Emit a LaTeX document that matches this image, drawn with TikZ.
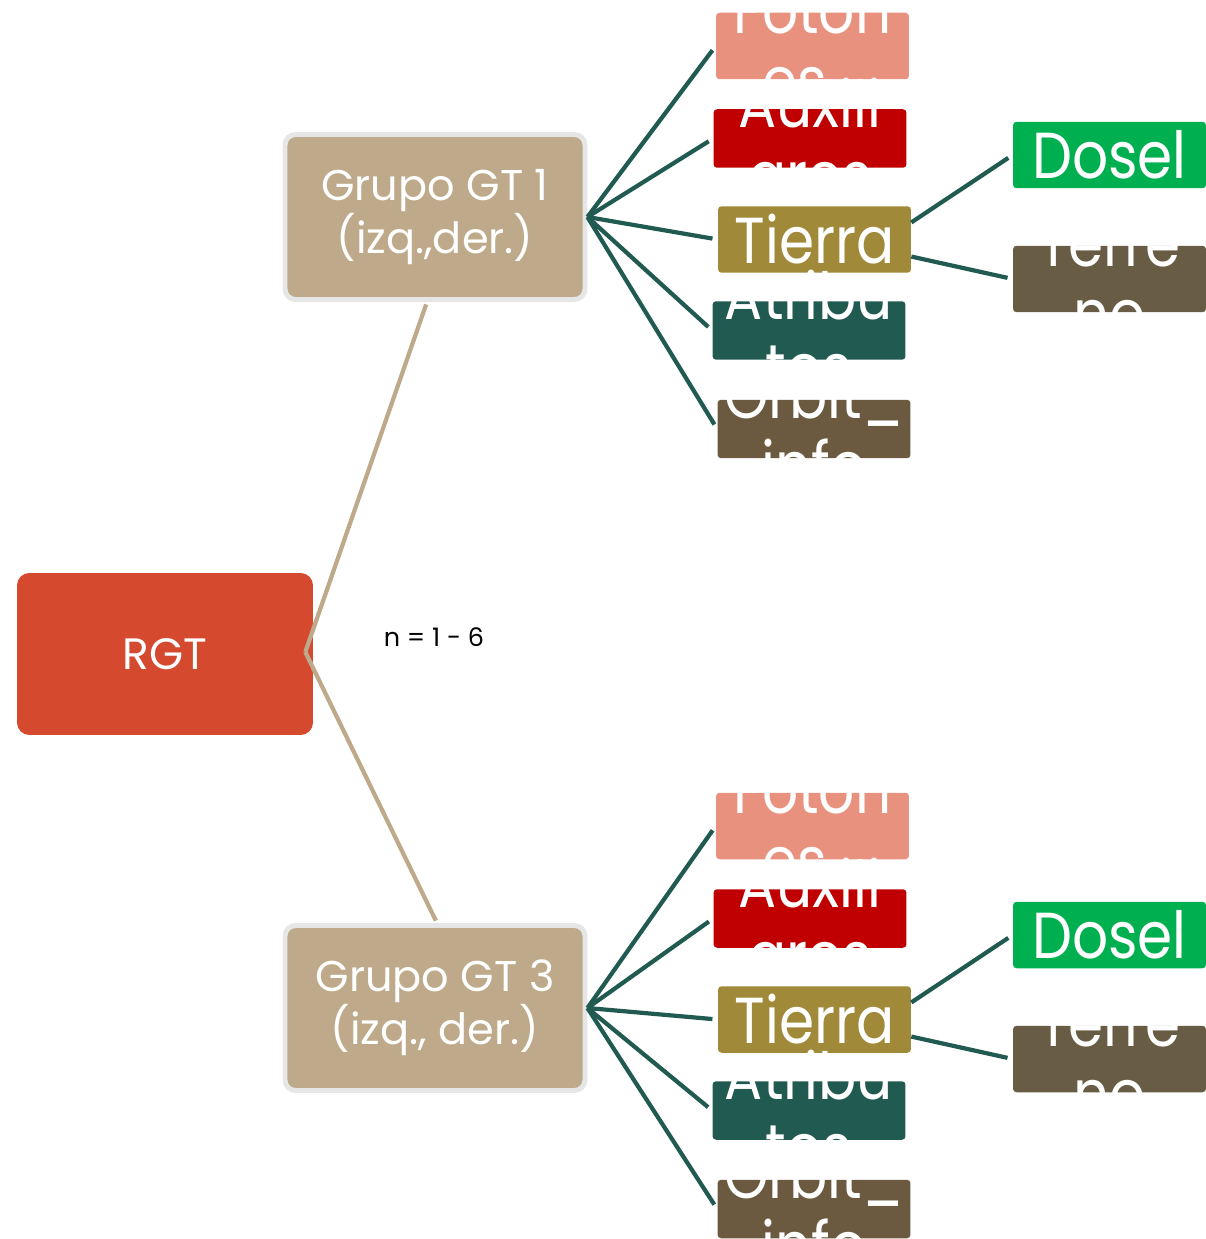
\documentclass[tikz,border=0pt]{standalone}
\usepackage{fontspec}
\setmainfont{Poppins}
\newfontfamily\leaffont[FakeStretch=0.87]{Poppins}
\usetikzlibrary{positioning,calc}
\definecolor{rgtred}{RGB}{213,73,47}
\definecolor{gttan}{RGB}{190,170,138}
\definecolor{gtrim}{RGB}{230,230,230}
\definecolor{linkgreen}{RGB}{33,90,80}
\definecolor{fotsalmon}{RGB}{232,145,127}
\definecolor{auxred}{RGB}{192,0,0}
\definecolor{tierraolive}{RGB}{160,137,56}
\definecolor{atribteal}{RGB}{33,90,80}
\definecolor{orbitbrown}{RGB}{107,90,64}
\definecolor{doselgreen}{RGB}{0,176,80}
\definecolor{terrenobrown}{RGB}{104,92,69}

\begin{document}
\begin{tikzpicture}[
  x=0.02cm, y=-0.02cm,
  rootbox/.style={rounded corners=7pt,fill=rgtred,minimum width=5.92cm,minimum height=3.24cm,
                  text=white,font=\fontsize{25}{28}\selectfont},
  groupbox/.style={rounded corners=6pt,fill=gttan,draw=gtrim,line width=2.8pt,
                   minimum width=6cm,minimum height=3.3cm,align=center,text=white,
                   font=\fontsize{24.5}{26.5}\selectfont},
  leafbox/.style={rounded corners=2pt,minimum width=3.86cm,minimum height=1.33cm,inner sep=0pt},
  shortleaf/.style={leafbox,minimum height=1.17cm},
  leaftext/.style={text=white,align=center,inner sep=0pt,font=\leaffont\fontsize{37}{40}\selectfont},
  trunk/.style={gttan,line width=2.4pt,shorten >=1.5pt},
  twig/.style={linkgreen,line width=2.4pt,shorten >=3pt},
]
  \useasboundingbox (0,0) rectangle (1205,1239);

  % root and groups
  \node[rootbox] (rgt) at (165,654) {RGT};
  \node[groupbox] (gt1) at (435,217) {Grupo GT 1\\(izq.,der.)};
  \node[groupbox] (gt3) at (435,1008) {Grupo GT 3\\(izq., der.)};
  \node[font=\fontsize{14.5}{17}\selectfont] (nrange) at (434,637) {n = 1 - 6};

  % root -> groups
  \coordinate (rgthub) at ($(rgt.east)+(-8,-2)$);
  \draw[trunk] (rgthub) -- ($(gt1.south)+(-8,0)$);
  \draw[trunk] (rgthub) -- ($(gt3.north)+(2,0)$);

  % leaves of GT 1
  \node[leafbox,fill=fotsalmon,label={[leaftext]center:{Foton\\es...}}] (fot1) at (812.5,46) {};
  \node[shortleaf,fill=auxred,label={[leaftext]center:{Auxili\\ares}}] (aux1) at (810,138.5) {};
  \node[leafbox,fill=tierraolive,label={[leaftext]center:{Tierra}}] (tierra1) at (814.5,239.5) {};
  \node[shortleaf,fill=atribteal,label={[leaftext]center:{Atribu\\tos}}] (atrib1) at (809,330.5) {};
  \node[shortleaf,fill=orbitbrown,label={[leaftext]center:{Orbit\_\\info}}] (orbit1) at (814,429) {};
  \node[leafbox,fill=doselgreen,label={[leaftext]center:{Dosel}}] (dosel1) at (1109.5,155) {};
  \node[leafbox,fill=terrenobrown,label={[leaftext]center:{Terre\\no}}] (terreno1) at (1109.5,279) {};

  % leaves of GT 3
  \node[leafbox,fill=fotsalmon,label={[leaftext]center:{Foton\\es...}}] (fot3) at (812.5,826) {};
  \node[shortleaf,fill=auxred,label={[leaftext]center:{Auxili\\ares}}] (aux3) at (810,918.5) {};
  \node[leafbox,fill=tierraolive,label={[leaftext]center:{Tierra}}] (tierra3) at (814.5,1019.5) {};
  \node[shortleaf,fill=atribteal,label={[leaftext]center:{Atribu\\tos}}] (atrib3) at (809,1110.5) {};
  \node[shortleaf,fill=orbitbrown,label={[leaftext]center:{Orbit\_\\info}}] (orbit3) at (814,1209) {};
  \node[leafbox,fill=doselgreen,label={[leaftext]center:{Dosel}}] (dosel3) at (1109.5,935) {};
  \node[leafbox,fill=terrenobrown,label={[leaftext]center:{Terre\\no}}] (terreno3) at (1109.5,1059) {};

  % group -> leaves
  \draw[twig] (gt1.east) -- (fot1.west);
  \draw[twig] (gt1.east) -- (aux1.west);
  \draw[twig] (gt1.east) -- (tierra1.west);
  \draw[twig] (gt1.east) -- (atrib1.west);
  \draw[twig] (gt1.east) -- (orbit1.west);
  \draw[twig] (tierra1.10) -- (dosel1.west);
  \draw[twig] (tierra1.-10) -- (terreno1.west);

  \draw[twig] (gt3.east) -- (fot3.west);
  \draw[twig] (gt3.east) -- (aux3.west);
  \draw[twig] (gt3.east) -- (tierra3.west);
  \draw[twig] (gt3.east) -- (atrib3.west);
  \draw[twig] (gt3.east) -- (orbit3.west);
  \draw[twig] (tierra3.10) -- (dosel3.west);
  \draw[twig] (tierra3.-10) -- (terreno3.west);
\end{tikzpicture}
\end{document}
